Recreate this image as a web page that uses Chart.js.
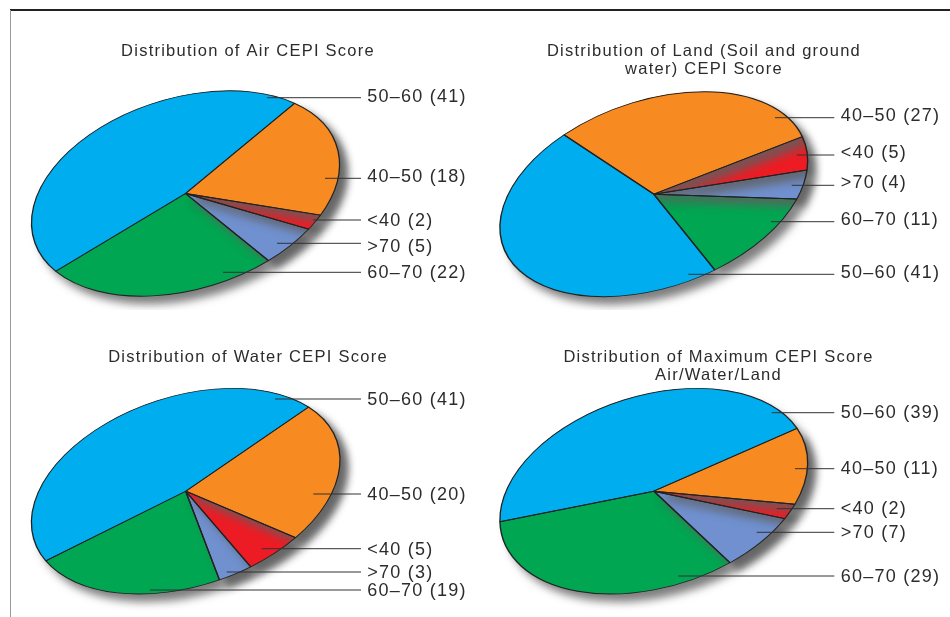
<!DOCTYPE html>
<html><head><meta charset="utf-8">
<script src="https://cdn.jsdelivr.net/npm/chart.js@4/dist/chart.umd.min.js"></script>
<style>
html,body{margin:0;padding:0;background:#fff;width:950px;height:617px;overflow:hidden}
canvas{position:absolute}
#top{position:absolute;left:10px;top:9px;width:940px;height:2px;background:#222}
#left{position:absolute;left:10px;top:10px;width:1px;height:607px;background:#999}
</style></head><body>
<div id="top"></div><div id="left"></div>
<canvas id="c1"></canvas><canvas id="c2"></canvas><canvas id="c3"></canvas><canvas id="c4"></canvas>
<script>
const categories = ['50–60','40–50','<40','>70','60–70'];
const airValues = [41,18,2,5,22];
const landValues = [41,27,5,4,11];
const waterValues = [41,20,5,3,19];
const maxValues = [39,11,2,7,29];
const sliceColors = ['#00ADEF','#F78A20','#ED1C24','#7090CF','#00A651'];

const panels = [
 {id:'c1', values:airValues, title:['Distribution of Air CEPI Score'],
  box:[12,15,472,295], pad:28, cx:185.5, cy:193.5, hw:154, hh:102.7, topDx:44, start:[55,271.7],
  lineEnd:361, textX:367.3,
  lineX:[267,325,313,277,223], lineY:[97.7,178.3,220,243.3,272.3], textY:[96.7,176.7,220.7,246.7,273.3]},
 {id:'c2', values:landValues, title:['Distribution of Land (Soil and ground','water) CEPI Score'],
  box:[456,15,496,295], pad:28, cx:653.8, cy:194.2, hw:153.9, hh:102.5, topDx:50, start:[714.3,269.3],
  lineEnd:834.3, textX:840.7,
  lineX:[688.3,775,796.7,791.7,771], lineY:[274.3,117.7,155,185.3,221.7], textY:[273.3,115.7,153.3,183.3,220]},
 {id:'c3', values:waterValues, title:['Distribution of Water CEPI Score'],
  box:[12,320,472,297], pad:29, cx:185.7, cy:491.2, hw:154.3, hh:102.8, topDx:47, start:[46,560.7],
  lineEnd:361, textX:367.3,
  lineX:[275,313.3,261.7,226.7,150], lineY:[399,494,548.7,572,590], textY:[400,495,550,573.3,591]},
 {id:'c4', values:maxValues, title:['Distribution of Maximum CEPI Score','Air/Water/Land'],
  box:[488,320,461,297], pad:29, cx:653.8, cy:491.2, hw:153.9, hh:102.8, topDx:43, start:[500,521.7],
  lineEnd:834.3, textX:840.7,
  lineX:[771.7,795,776.7,756.7,678.3], lineY:[412.7,468.7,508.7,532.3,576], textY:[413.3,469.3,509.3,532.7,576.7]}
];

const FONT = '"Liberation Sans", Arial, sans-serif';

function drawWith(el, ctx, over){
  const orig = el.options;
  el.options = Object.assign({}, orig, over);
  el.draw(ctx);
  el.options = orig;
}

const tiltPlugin = {
  id:'tilt',
  beforeDraw(chart){ chart.ctx.letterSpacing = '1.25px'; },
  beforeDatasetsDraw(chart,args,opts){
    const p = opts.panel, ctx = chart.ctx, el = chart.getDatasetMeta(0).data[0];
    const R = el.outerRadius;
    const b = -p.topDx*p.hh/p.hw, d = Math.sqrt(p.hh*p.hh-b*b);
    ctx.save();
    ctx.translate(p.cx-p.box[0], p.cy-p.box[1]);
    ctx.transform(p.hw/R, b/R, 0, d/R, 0, 0);
    ctx.translate(-el.x,-el.y);
    ctx.shadowColor='rgba(95,95,95,0.8)';
    ctx.shadowBlur=9; ctx.shadowOffsetX=7; ctx.shadowOffsetY=8;
  },
  afterDatasetsDraw(chart,args,opts){
    const p = opts.panel, ctx = chart.ctx, data = chart.getDatasetMeta(0).data;
    data[3].draw(ctx);   // >70 casts onto 60-70
    data[2].draw(ctx);   // <40 casts onto >70
    data[1].draw(ctx);   // 40-50 casts onto <40
    ctx.shadowColor='transparent';
    data[0].draw(ctx);   // 50-60 stays clean
    data.forEach(el=>drawWith(el,ctx,{backgroundColor:'transparent',borderWidth:1}));
    ctx.restore();
    // leaders and labels
    ctx.save();
    ctx.shadowColor='transparent';
    ctx.strokeStyle='#333'; ctx.lineWidth=1;
    ctx.fillStyle='#2c2c2c'; ctx.font='18px '+FONT;
    ctx.textBaseline='middle'; ctx.textAlign='left';
    ctx.letterSpacing='1.25px';
    const ox=p.box[0], oy=p.box[1];
    categories.forEach((c,i)=>{
      ctx.beginPath();
      ctx.moveTo(p.lineX[i]-ox,p.lineY[i]-oy);
      ctx.lineTo(p.lineEnd-ox,p.lineY[i]-oy);
      ctx.stroke();
      ctx.fillText(c+' ('+p.values[i]+')',p.textX-ox,p.textY[i]-oy);
    });
    ctx.restore();
  }
};

panels.forEach(p=>{
  const cv=document.getElementById(p.id);
  cv.style.left=p.box[0]+'px'; cv.style.top=p.box[1]+'px';
  cv.style.width=p.box[2]+'px'; cv.style.height=p.box[3]+'px';
  cv.width=p.box[2]; cv.height=p.box[3];
  const b=-p.topDx*p.hh/p.hw, d=Math.sqrt(p.hh*p.hh-b*b);
  const u=(p.start[0]-p.cx)/p.hw, v=(p.start[1]-p.cy-b*u)/d;
  const rotation=Math.atan2(v,u)*180/Math.PI+90;
  new Chart(cv,{
    type:'pie',
    data:{labels:categories,datasets:[{data:p.values,backgroundColor:sliceColors,borderColor:'#222',borderWidth:0,clip:false}]},
    options:{
      responsive:false,animation:false,rotation,
      layout:{padding:0},
      plugins:{
        legend:{display:false},tooltip:{enabled:false},
        title:{display:true,text:p.title,color:'#2c2c2c',
          font:{family:FONT,size:16.5,weight:'normal',lineHeight:1.05},
          padding:{top:p.pad,bottom:10}},
        tilt:{panel:p}
      }
    },
    plugins:[tiltPlugin]
  });
});
</script>
</body></html>
